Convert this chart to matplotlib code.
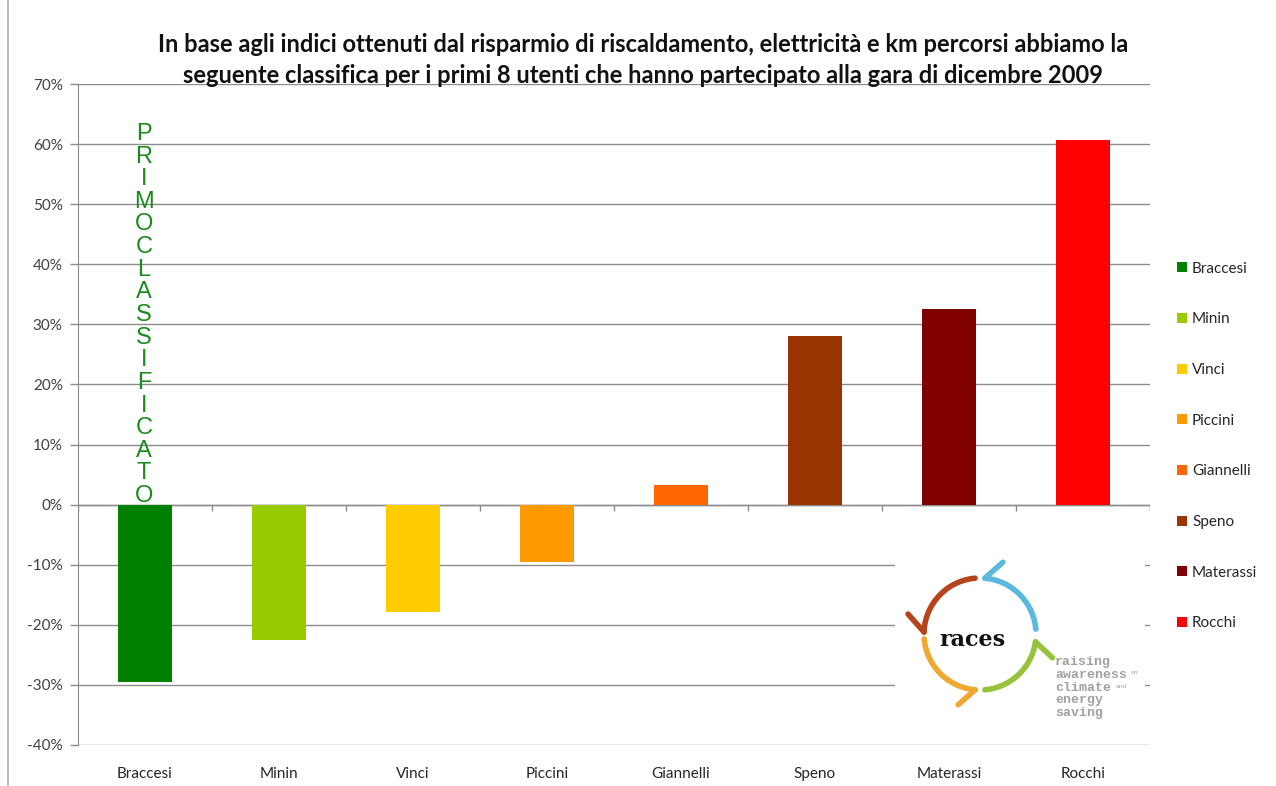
import numpy as np
import matplotlib
matplotlib.use("Agg")
import matplotlib.pyplot as plt
from matplotlib.lines import Line2D

# dati
utenti = ["Braccesi", "Minin", "Vinci", "Piccini", "Giannelli", "Speno", "Materassi", "Rocchi"]
indici = [-29.5, -22.5, -17.8, -9.5, 3.2, 28.1, 32.6, 60.6]
colori = ["#008000", "#99CC00", "#FFCC00", "#FF9900", "#FF6600", "#993300", "#800000", "#FF0000"]
yticks = list(range(-40, 71, 10))

titolo = ("In base agli indici ottenuti dal risparmio di riscaldamento, elettricità e km percorsi abbiamo la\n"
          "seguente classifica per i primi 8 utenti che hanno partecipato alla gara di dicembre 2009")
etichetta = "PRIMO CLASSIFICATO"

W, H = 1276, 786
fig = plt.figure(figsize=(W / 100, H / 100), dpi=100)
fig.patch.set_facecolor("white")

ax = fig.add_axes([78 / W, 41 / H, 1072 / W, 661 / H])
x = np.arange(len(utenti))
bars = ax.bar(x, indici, width=0.4, color=colori, zorder=3)
for b, nome in zip(bars, utenti):
    b.set_label(nome)

ax.set_xlim(-0.5, len(utenti) - 0.5)
ax.set_ylim(-40, 70)
ax.set_yticks(yticks)
ax.set_yticklabels([f"{v}%" for v in yticks], fontfamily="Lato", fontsize=11, color="#404040")
ax.set_xticks(x)
ax.set_xticklabels(utenti, fontfamily="Lato", fontsize=11, color="#262626")
ax.tick_params(axis="x", length=0, pad=16)
ax.tick_params(axis="y", length=6, color="#8c8c8c", width=1, pad=5)
ax.grid(axis="y", color="#8c8c8c", linewidth=1, zorder=0)
ax.set_axisbelow(True)
for s in ["top", "right", "bottom"]:
    ax.spines[s].set_visible(False)
ax.spines["left"].set_color("#8c8c8c")

# asse delle categorie sullo zero
ax.axhline(0, color="#8c8c8c", linewidth=1, zorder=2)
ax.vlines(np.arange(len(utenti) + 1) - 0.5, -1.0, 0, color="#8c8c8c", linewidth=1, zorder=2)

# scritta verticale sul primo classificato
lettere = [c for c in etichetta if c != " "]
ytop, ybot = 134, 496
for i, c in enumerate(lettere):
    yp = ytop + i * (ybot - ytop) / (len(lettere) - 1)
    fig.text(144 / W, 1 - yp / H, c, ha="center", va="center", fontsize=17,
             family="Liberation Sans", color="#1a8a1a")

fig.text(643 / W, 1 - 60 / H, titolo, ha="center", va="center", fontsize=17,
         fontweight="bold", family="Lato", linespacing=1.4, color="#111111")

leg = fig.legend(handles=list(bars), labels=utenti, loc="upper left",
                 bbox_to_anchor=(1163 / W, 1 - 248 / H), frameon=False,
                 prop={"family": "Lato", "size": 11}, labelspacing=2.4,
                 handlelength=0.65, handleheight=0.65, handletextpad=0.35)
for t in leg.get_texts():
    t.set_color("#262626")

# logo races
lx0, lx1, ly0, ly1 = 895, 1145, 553, 728
lg = fig.add_axes([lx0 / W, 1 - ly1 / H, (lx1 - lx0) / W, (ly1 - ly0) / H])
lg.set_xlim(lx0, lx1)
lg.set_ylim(ly1, ly0)
lg.set_facecolor("white")
lg.set_xticks([])
lg.set_yticks([])
for s in lg.spines.values():
    s.set_visible(False)

cx, cy, r = 980, 634, 56
archi = [
    ("#b5441c", 95, 178, "end", (-16, -18)),
    ("#5bb8de", 85, 5, "start", (18, -16)),
    ("#98c23c", -8, -85, "start", (17, 16)),
    ("#f0a830", 185, 265, "end", (-17, 15)),
]
for col, a0, a1, dove, (dx, dy) in archi:
    t = np.radians(np.linspace(a0, a1, 60))
    px = cx + r * np.cos(t)
    py = cy - r * np.sin(t)
    lg.plot(px, py, color=col, linewidth=4, solid_capstyle="round")
    k = 0 if dove == "start" else -1
    lg.plot([px[k], px[k] + dx], [py[k], py[k] + dy], color=col, linewidth=4,
            solid_capstyle="round")

lg.text(972, 640, "races", ha="center", va="center", fontsize=16, fontweight="bold",
        family="DejaVu Serif", color="#111111")
motto = ["raising", "awareness", "climate", "energy", "saving"]
for i, w in enumerate(motto):
    lg.text(1055, 662 + i * 12.8, w, ha="left", va="center", fontsize=9.5,
            fontweight="bold", family="Liberation Mono", color="#a59f9f")
lg.text(1131, 673, "on", ha="left", va="center", fontsize=4.5, family="Liberation Mono",
        color="#a59f9f")
lg.text(1116, 686, "and", ha="left", va="center", fontsize=4.5, family="Liberation Mono",
        color="#a59f9f")

# bordo sinistro dell'immagine
fig.add_artist(Line2D([8 / W, 8 / W], [0, 1], color="#b0b0b0", linewidth=1.2,
                      transform=fig.transFigure))

fig.savefig("out.png", dpi=100)
